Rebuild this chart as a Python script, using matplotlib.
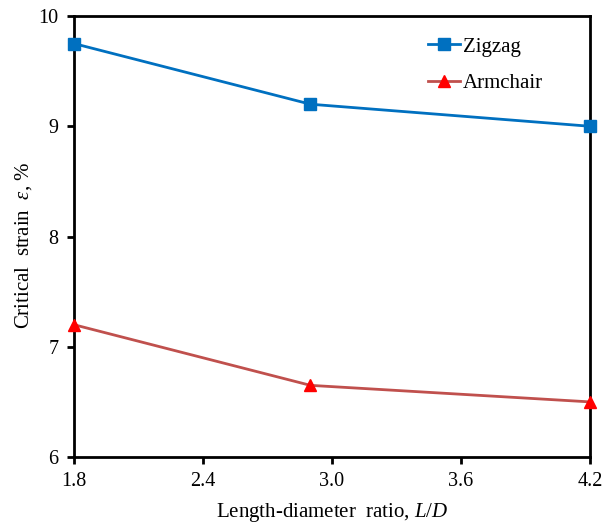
import matplotlib
matplotlib.use("Agg")
import matplotlib.pyplot as plt

plt.rcParams["font.family"] = ["Liberation Serif", "DejaVu Serif"]
plt.rcParams["mathtext.fontset"] = "custom"
plt.rcParams["mathtext.it"] = "Liberation Serif:italic"
plt.rcParams["mathtext.rm"] = "Liberation Serif"

# data
ratio = [1.8, 2.9, 4.2]
zigzag = [9.75, 9.2, 9.0]
armchair = [7.2, 6.65, 6.5]
xticks = [1.8, 2.4, 3.0, 3.6, 4.2]
yticks = [6, 7, 8, 9, 10]

fig = plt.figure(figsize=(6.05, 5.25), dpi=100)
ax = fig.add_axes([0.1223, 0.1295, 0.8527, 0.84])

ax.plot(ratio, zigzag, color="#0070C0", lw=2, marker="s", ms=8,
        mfc="#0070C0", mec="#0070C0", label="Zigzag", clip_on=False, zorder=3)
ax.plot(ratio, armchair, color="#C0504D", lw=2, marker="^", ms=9,
        mfc="#FF0000", mec="#FF0000", label="Armchair", clip_on=False, zorder=3)

ax.set_xlim(1.8, 4.2)
ax.set_ylim(6, 10)
ax.set_xticks(xticks)
ax.set_xticklabels([f"{t:.1f}" for t in xticks])
ax.set_yticks(yticks)
ax.tick_params(direction="out", length=5, width=2, labelsize=14.5, pad=6)
for s in ax.spines.values():
    s.set_linewidth(2)

ax.set_xlabel("Length-diameter  ratio, $L/D$", fontsize=15, labelpad=7)
ax.set_ylabel(r"Critical  strain  $\varepsilon$, %", fontsize=15)
ax.yaxis.set_label_coords(-0.078, 0.48)

ax.legend(loc="upper right", frameon=False, fontsize=15, handlelength=1.5,
          bbox_to_anchor=(0.945, 0.995), labelspacing=0.8, handletextpad=0.15)

fig.savefig("out.png", dpi=100)
